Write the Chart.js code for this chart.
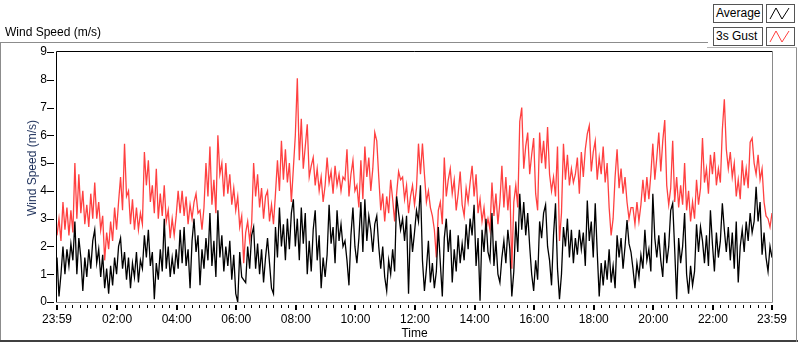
<!DOCTYPE html>
<html>
<head>
<meta charset="utf-8">
<script src="https://cdn.jsdelivr.net/npm/chart.js@4.4.1/dist/chart.umd.min.js"></script>
<style>
html,body{margin:0;padding:0;background:#fff;}
#wrap{position:relative;width:800px;height:342px;overflow:hidden;font-family:"Liberation Sans",Arial,sans-serif;font-size:12px;color:#000;background:#fff;}
#c{position:absolute;left:0;top:0;}
.caption{position:absolute;left:5px;top:25px;line-height:14px;white-space:nowrap;}
.ytitle{position:absolute;left:32px;top:168px;line-height:14px;white-space:nowrap;transform:translate(-50%,-50%) rotate(-90deg);color:#1c2f5a;}
.ln{position:absolute;}
.lbox{position:absolute;left:713px;border:1px solid #555;background:#fff;line-height:17px;padding-left:2px;box-sizing:border-box;width:50px;height:19px;}
.ibox{position:absolute;left:766px;width:29px;height:19px;border:1px solid #555;background:#fff;box-sizing:border-box;}
.ibox svg{position:absolute;left:0;top:0;}
</style>
</head>
<body>
<div id="wrap">
  <canvas id="c" width="800" height="342"></canvas>
  <div class="ln" style="left:0;top:42px;width:708px;height:1px;background:#8c8c8c"></div>
  <div class="ln" style="left:0;top:42px;width:1px;height:300px;background:#8c8c8c"></div>
  <div class="ln" style="left:0;top:340px;width:798px;height:2px;background:#404040"></div>
  <div class="ln" style="left:796px;top:47px;width:1px;height:295px;background:#8c8c8c"></div>
  <div class="ln" style="left:707px;top:47px;width:90px;height:1px;background:#b4b4b4"></div>
  <div class="caption">Wind Speed (m/s)</div>
  <div class="ytitle">Wind Speed (m/s)</div>
  <div class="lbox" style="top:4px">Average</div>
  <div class="ibox" style="top:4px"><svg width="27" height="17"><polyline points="3,14 9,3 15,14 22,3" fill="none" stroke="#000" stroke-width="1"/></svg></div>
  <div class="lbox" style="top:27px">3s Gust</div>
  <div class="ibox" style="top:27px"><svg width="27" height="17"><polyline points="3,14 9,3 15,14 22,3" fill="none" stroke="#ff4040" stroke-width="1"/></svg></div>
</div>
<script>
// ---- data (one sample every 4 minutes from 23:59 to 23:59) ----
const gustValues = [
2.4,3.0,2.2,3.6,2.6,3.4,2.4,3.3,2.5,5.0, 3.0,4.6,3.2,4.0,2.8,3.5,2.7,3.9,3.0,4.3,
3.0,3.6,2.6,3.1,1.5,2.5,1.9,2.9,2.2,3.4, 2.6,3.6,4.5,3.3,5.7,3.8,4.0,2.8,3.7,2.6,
3.4,2.6,3.2,2.8,5.4,4.2,5.1,3.6,4.2,3.2, 4.8,3.0,3.9,3.1,4.2,2.9,3.3,2.3,3.0,2.4,
3.1,4.0,3.2,4.0,3.1,3.8,2.8,3.5,3.0,3.6, 3.9,3.2,
3.3,2.6,3.4,5.0,3.8,5.6,3.5,4.4,3.2,6.0, 4.6,5.0,3.8,5.0,3.9,4.6,3.5,4.1,3.3,3.8,
2.7,3.1,1.4,2.5,2.9,2.2,2.8,5.0,3.8,4.6, 3.4,4.1,3.0,3.8,4.0,2.9,3.5,2.8,3.9,5.1,
4.0,5.8,4.4,5.5,4.3,5.0,3.6,4.8,6.0,8.05, 5.1,6.6,4.8,5.6,6.4,4.5,4.9,5.2,4.2,4.8,
4.0,4.5,3.6,4.2,5.2,4.3,4.7,3.9,4.9,4.2, 4.6,4.0,4.5,
4.4,5.5,3.8,4.6,5.1,4.0,4.2,3.4,5.1,3.7, 5.6,4.5,5.2,4.0,4.8,6.1,5.8,4.5,3.3,3.9,
2.9,3.8,3.2,4.4,3.7,2.9,3.9,4.7,4.4,4.5, 3.7,4.2,3.2,3.8,4.2,3.5,4.1,5.7,4.6,5.7,
4.6,3.6,4.0,3.4,3.1,2.6,1.6,3.3,3.6,2.8, 5.2,3.8,4.4,4.8,3.9,4.4,3.3,3.9,4.7,3.5,
3.1,4.1,3.6,4.3,4.9,3.8,4.6,3.2,3.7,2.9, 3.4,2.6,
3.0,2.6,4.3,3.1,3.9,2.8,3.6,4.9,3.4,4.5, 3.3,4.2,1.2,3.6,4.2,3.4,6.5,7.0,4.8,5.6,
6.1,4.6,5.3,5.9,3.9,3.3,6.1,5.0,5.8,4.8, 6.3,4.6,4.0,4.5,3.8,5.6,2.2,3.2,5.7,4.4,
5.3,4.2,4.8,4.3,4.6,5.2,3.9,5.4,4.5,5.5, 6.05,6.35,4.7,5.4,5.8,4.4,5.2,4.6,5.6,4.3,
5.0,3.4,2.4,3.0,4.5,5.5,4.1,4.8,3.9,4.5, 3.6,3.0,3.4,
3.4,2.8,3.6,2.9,3.5,4.4,3.6,4.5,3.7,4.6, 5.7,4.4,5.2,6.1,4.7,5.8,6.55,4.2,3.5,4.1,
5.8,3.6,4.5,3.4,4.2,3.5,5.0,3.3,4.0,2.9, 3.6,3.0,4.4,3.5,4.1,5.9,4.3,4.8,3.9,5.3,
4.6,5.4,4.2,4.8,4.3,6.2,7.3,5.5,4.8,5.4, 4.5,5.0,3.8,4.4,3.7,5.1,4.2,4.8,4.1,5.75,
5.9,5.0,4.6,5.3,4.4,4.8,3.6,3.1,3.0,2.7, 3.2
];
const averageValues = [
1.6,0.2,1.0,2.0,1.0,1.9,1.3,2.1,1.5,2.9, 1.0,2.3,1.6,0.4,1.6,0.9,1.9,1.2,2.2,2.6,
1.4,1.9,0.9,1.7,0.5,1.2,0.3,1.3,0.6,1.6, 1.0,2.0,2.3,1.2,1.8,0.8,1.6,0.5,1.4,0.9,
1.8,0.7,1.5,1.2,2.4,1.6,2.6,1.3,1.8,0.1, 1.4,0.8,1.9,1.1,3.0,1.2,2.0,0.9,1.6,1.0,
1.9,1.2,2.6,1.4,2.7,1.3,1.9,0.5,2.2,3.0, 1.8,2.4,
0.6,1.9,1.2,2.3,1.5,3.2,1.3,2.2,0.9,3.3, 1.6,2.4,1.1,2.0,1.3,2.2,0.8,1.7,0.3,0.0,
1.8,0.9,0.8,0.7,2.0,1.2,2.4,2.7,1.2,2.1, 1.0,1.9,0.7,1.6,2.3,1.4,0.5,0.3,2.7,1.6,
3.4,2.0,2.8,1.5,3.0,1.9,3.2,3.7,2.0,3.0, 1.5,3.4,2.1,3.2,1.0,2.2,1.1,2.6,3.3,1.5,
2.4,0.5,1.6,0.9,1.7,3.5,2.1,2.7,1.4,3.3, 2.2,2.8,2.0,
2.2,1.5,0.6,2.4,3.4,2.0,1.4,2.3,3.6,1.8, 3.7,2.2,3.1,2.6,1.8,2.8,3.1,2.0,1.2,2.0,
0.9,0.4,1.5,1.0,1.9,1.1,3.8,3.2,2.6,3.0, 2.2,3.1,0.3,2.8,1.8,2.5,3.3,2.9,4.2,1.5,
0.4,1.2,2.2,0.7,1.4,0.5,1.1,2.7,1.4,0.2, 2.3,3.0,1.8,2.6,0.7,1.9,1.1,2.4,1.4,2.1,
1.5,2.8,1.9,3.0,2.4,3.5,1.3,2.3,0.05,2.6, 1.8,3.0,
1.8,1.5,3.2,1.3,2.2,1.0,0.7,1.6,2.2,1.4, 2.6,1.9,0.2,1.1,2.9,1.8,3.9,2.6,3.6,2.4,
3.2,2.0,1.0,0.4,1.5,0.8,2.9,2.3,3.2,3.5, 2.0,1.5,0.6,2.4,3.55,1.2,0.1,1.0,2.7,2.0,
3.0,1.6,2.6,1.4,2.3,1.7,2.6,1.9,2.5,1.3, 3.65,2.2,2.9,1.6,3.55,1.8,0.2,1.4,0.6,1.5,
0.8,1.9,0.7,1.3,0.5,2.4,1.6,2.3,1.2,2.0, 2.95,2.1,1.8,
1.2,0.5,1.4,0.9,1.7,1.2,2.6,1.5,1.9,1.1, 3.9,2.3,1.6,2.4,1.5,0.9,2.5,1.4,2.0,3.3,
3.55,1.9,0.1,2.3,1.4,2.0,3.2,1.0,0.3,1.3, 0.6,1.1,2.8,1.8,2.7,2.2,1.4,2.4,1.3,3.3,
2.1,1.1,2.5,1.6,2.2,3.55,2.6,1.8,2.7,1.5, 2.5,1.2,2.9,0.7,2.0,2.6,1.8,2.9,2.2,3.2,
2.5,2.9,4.15,2.9,3.6,1.7,2.5,1.6,1.1,2.0, 1.6
];
const sampleMinutes = gustValues.map((_, i) => i * 4); // minutes after 23:59
const tickMinutes = [0, 121, 241, 361, 481, 601, 721, 841, 961, 1081, 1201, 1321, 1440];
const tickLabels = ['23:59','02:00','04:00','06:00','08:00','10:00','12:00','14:00','16:00','18:00','20:00','22:00','23:59'];
const yTickValues = [0,1,2,3,4,5,6,7,8,9];

const minorTicks = [];
for (let m = 16; m < 1440; m += 15) if (!tickMinutes.includes(m)) minorTicks.push(m);

const toPoints = vals => vals.map((v, i) => ({x: sampleMinutes[i], y: v}));

const FONT = {family: '"Liberation Sans", Arial, sans-serif', size: 12};

const decor = {
  id: 'decor',
  afterDraw(chart) {
    const {ctx, chartArea: a, scales: {x, y}} = chart;
    ctx.save();
    ctx.lineWidth = 1;
    ctx.strokeStyle = '#000';
    ctx.beginPath();
    for (const m of minorTicks) {
      const px = Math.round(x.getPixelForValue(m)) + 0.5;
      ctx.moveTo(px, a.bottom + 3); ctx.lineTo(px, a.bottom + 6);
    }
    ctx.stroke();
    ctx.lineWidth = 2;
    ctx.beginPath();
    for (const m of tickMinutes) {
      const px = Math.round(x.getPixelForValue(m));
      ctx.moveTo(px, a.bottom + 3); ctx.lineTo(px, a.bottom + 8);
    }
    ctx.stroke();
    ctx.lineWidth = 1;
    ctx.beginPath();
    for (const v of yTickValues) {
      const py = Math.round(y.getPixelForValue(v)) + 0.5;
      ctx.moveTo(a.left - 10, py); ctx.lineTo(a.left - 3, py);
    }
    ctx.stroke();
    // plot frame
    ctx.strokeStyle = '#000';
    ctx.beginPath();
    ctx.moveTo(a.left - 0.5, a.bottom); ctx.lineTo(a.left - 0.5, a.top - 0.5); ctx.lineTo(a.right, a.top - 0.5);
    ctx.stroke();
    ctx.strokeStyle = '#8a8a8a';
    ctx.beginPath();
    ctx.moveTo(a.right + 0.5, a.top - 1); ctx.lineTo(a.right + 0.5, a.bottom + 0.5); ctx.lineTo(a.left - 1, a.bottom + 0.5);
    ctx.stroke();
    ctx.restore();
  }
};

new Chart(document.getElementById('c'), {
  type: 'line',
  data: {
    datasets: [
      {label: 'Average', data: toPoints(averageValues), borderColor: '#000000', borderWidth: 1.3, pointRadius: 0, tension: 0, order: 0},
      {label: '3s Gust', data: toPoints(gustValues), borderColor: '#ff4040', borderWidth: 1.3, pointRadius: 0, tension: 0, order: 1}
    ]
  },
  options: {
    responsive: false,
    animation: false,
    devicePixelRatio: 1,
    layout: {padding: {left: 0, top: 52, right: 28, bottom: 0}},
    plugins: {legend: {display: false}, tooltip: {enabled: false}},
    scales: {
      x: {
        type: 'linear', min: 0, max: 1440,
        afterFit: s => { s.height = 40; },
        afterBuildTicks: s => { s.ticks = tickMinutes.map(v => ({value: v})); },
        grid: {display: true, drawOnChartArea: false, drawTicks: false},
        border: {display: false},
        ticks: {autoSkip: false, maxRotation: 0, padding: 10, color: '#000', font: FONT,
                callback: v => tickLabels[tickMinutes.indexOf(v)]},
        title: {display: true, text: 'Time', color: '#000', font: FONT, padding: {top: 0, bottom: 1}}
      },
      y: {
        min: 0, max: 9,
        afterFit: s => { s.width = 57; },
        afterBuildTicks: s => { s.ticks = yTickValues.map(v => ({value: v})); },
        grid: {display: true, drawOnChartArea: false, drawTicks: false},
        border: {display: false},
        ticks: {padding: 10, color: '#000', font: FONT}
      }
    }
  },
  plugins: [decor]
});
</script>
</body>
</html>
